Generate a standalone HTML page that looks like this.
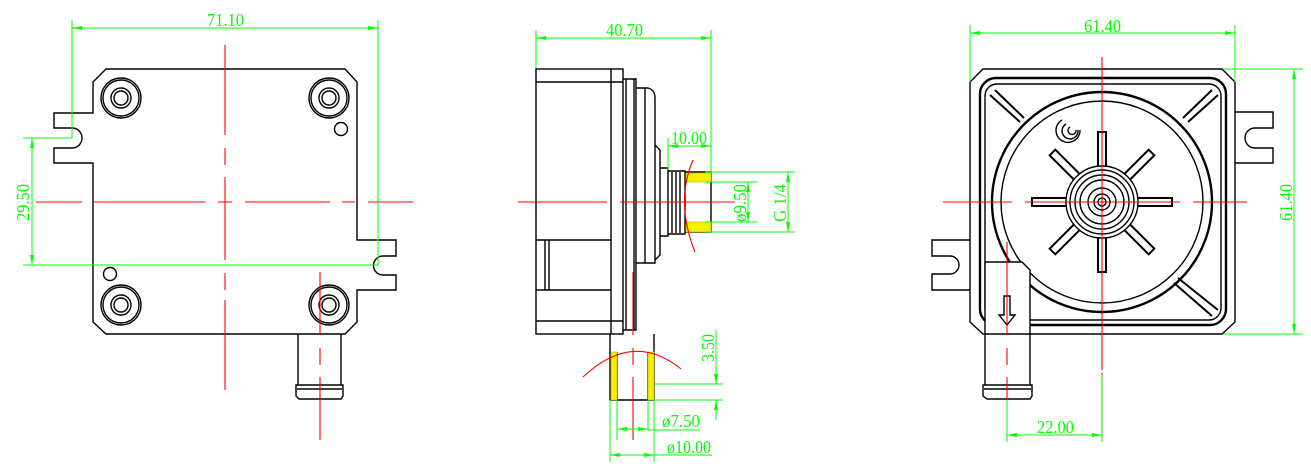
<!DOCTYPE html>
<html><head><meta charset="utf-8"><style>
html,body{margin:0;padding:0;background:#fff;}
svg{display:block;}
text{font-family:"Liberation Serif",serif;fill:#00ff00;font-size:18px;}
</style></head><body>
<svg width="1311" height="473" viewBox="0 0 1311 473" xmlns="http://www.w3.org/2000/svg">
<g fill="none" stroke="#000" stroke-width="1.4">
<!-- LEFT VIEW -->
<path d="M106,69 L345,69 L357,82 L357,240 L396,240 L396,256 L383,256 A9,9 0 0 0 383,275 L396,275 L396,290 L357,290 L357,322 L345,334 L106,334 L93,322 L93,163 L54,163 L54,148 L72,148 A10,10 0 0 0 72,128 L54,128 L54,113 L93,113 L93,82 Z"/>
<g>
<circle cx="121" cy="98" r="20"/><circle cx="121" cy="98" r="18"/><circle cx="121" cy="98" r="10"/><circle cx="121" cy="98" r="7"/>
<circle cx="329" cy="98" r="20"/><circle cx="329" cy="98" r="18"/><circle cx="329" cy="98" r="10"/><circle cx="329" cy="98" r="7"/>
<circle cx="121" cy="305" r="20"/><circle cx="121" cy="305" r="18"/><circle cx="121" cy="305" r="10"/><circle cx="121" cy="305" r="7"/>
<circle cx="329" cy="305" r="20"/><circle cx="329" cy="305" r="18"/><circle cx="329" cy="305" r="10"/><circle cx="329" cy="305" r="7"/>
<circle cx="341" cy="129" r="6.5"/><circle cx="110" cy="274" r="6.5"/>
</g>
<path d="M298,334 L298,385 M341,334 L341,385 M296,385 L343,385 L343,396 L341,399 L299,399 L296,396 Z M297,389 L342,389"/>

<!-- MIDDLE VIEW -->
<rect x="536" y="69" width="87" height="265"/>
<path d="M536,82 L623,82 M536,321 L623,321 M611,69 L611,334 M536,240 L611,240 M536,290 L611,290 M545,240 L545,290 M549,240 L549,290"/>
<path d="M623,79 L636,79 L636,330 L623,330 M626,79 L626,330 M634,79 L634,330"/>
<path d="M636,88 L648,88 Q655,90 655,98 L655,263 L636,263 M645,88 L645,263"/>
<path d="M655,145 L660,150 L660,255 L655,260 M660,168 L668,168 L668,236 L660,236"/>
<path d="M668,171 L685,171 L685,234 L668,234 M672,172 L672,233 M676,172 L676,233 M680,172 L680,233 M685,172 L711,172 L711,232 L685,232"/>
<path d="M610,334 L610,400 L654,400 L654,334 M617,352 L617,400 M648,352 L648,400"/>
<!-- RIGHT VIEW -->
<path d="M983,69 L1222,69 L1235,82 L1235,322 L1222,334 L983,334 L970,322 L970,82 Z"/>
<rect x="980" y="78" width="246" height="247" rx="16" stroke-width="2.4"/>
<rect x="985" y="84" width="236" height="236" rx="12"/>
<circle cx="1102" cy="202" r="110" stroke-width="2.4"/>
<circle cx="1102" cy="202" r="101"/>
<path d="M1235,112 L1273,112 L1273,128 L1255,128 A10,10 0 0 0 1255,148 L1273,148 L1273,163 L1235,163"/>
<path d="M970,240 L932,240 L932,256 L950,256 A8,8 0 0 1 950,274 L932,274 L932,290 L970,290"/>
<circle cx="1102" cy="202" r="36"/><circle cx="1102" cy="202" r="32"/><circle cx="1102" cy="202" r="27"/><circle cx="1102" cy="202" r="22"/><circle cx="1102" cy="202" r="14"/><circle cx="1102" cy="202" r="8"/><circle cx="1102" cy="202" r="4"/>
<g id="sp"><path d="M1098,166 L1098,132 L1106,132 L1106,166" stroke-width="2"/></g>
<use href="#sp" transform="rotate(45 1102 202)"/><use href="#sp" transform="rotate(90 1102 202)"/><use href="#sp" transform="rotate(135 1102 202)"/>
<use href="#sp" transform="rotate(180 1102 202)"/><use href="#sp" transform="rotate(225 1102 202)"/><use href="#sp" transform="rotate(270 1102 202)"/><use href="#sp" transform="rotate(315 1102 202)"/>
<path d="M990,95 L1020,122 M995,90 L1024,118 M1218,95 L1188,122 M1212,90 L1183,118 M1218,310 L1178,278 M1212,316 L1174,283" stroke-width="2"/>
<rect x="985" y="262" width="45" height="70" fill="#fff" stroke="none"/>
<path d="M985,262 L1022,262 L1030,270 L1030,385 M985,262 L985,385 M983,385 L1032,385 L1032,396 L1030,399 L987,399 L983,396 Z M984,389 L1031,389"/>
<path d="M1004,296 L1004,315 L999,315 L1007,325 L1015,315 L1010,315 L1010,296 Z"/>
<path d="M1062,120 a12,12 0 1 0 18,10 M1066,124 a8,8 0 1 0 12,6 M1070,127 a4,4 0 1 0 6,3"/>
</g>

<!-- yellow hatch -->
<g fill="#f4f000" stroke="#c8b400" stroke-width="0.6">
<rect x="686" y="173" width="25" height="9"/><rect x="686" y="222" width="25" height="10"/>
<rect x="611" y="352" width="6" height="48"/><rect x="648" y="352" width="6" height="48"/>
</g>

<!-- red center lines -->
<g fill="none" stroke="#ff0000" stroke-width="1.1">
<path d="M225,45 L225,135 M225,148 L225,165 M225,177 L225,260 M225,273 L225,290 M225,300 L225,390" />
<path d="M36,202 L82,202 M94,202 L205,202 M218,202 L232,202 M245,202 L330,202 M342,202 L355,202 M368,202 L413,202"/>
<path d="M320,272 L320,335 M320,348 L320,365 M320,377 L320,440"/>
<path d="M518,202 L607,202 M620,202 L735,202"/>
<path d="M693,160 Q675,202 695,252"/>
<path d="M583,377 Q633,330 681,369"/>
<path d="M633,272 L633,335 M633,348 L633,365 M633,377 L633,440"/>
<path d="M943,202 L1012,202 M1025,202 L1180,202 M1193,202 L1247,202"/>
<path d="M1102,57 L1102,370 M1102,373 L1102,440"/>
<path d="M1007,242 L1007,335 M1007,348 L1007,365 M1007,377 L1007,400"/>
</g>

<!-- green dims -->
<g fill="none" stroke="#00ff00" stroke-width="1">
<path d="M72,28 L378,28 M72,20 L72,138 M378,20 L378,265"/>
<path d="M32,138 L32,265 M23,138 L72,138 M23,265 L378,265"/>
<path d="M536,38 L711,38 M536,30 L536,68 M711,30 L711,172"/>
<path d="M668,146 L711,146 M668,138 L668,170"/>
<path d="M748,182 L748,222 M705,182 L757,182 M705,222 L757,222"/>
<path d="M788,172 L788,232 M705,172 L795,172 M705,232 L795,232"/>
<path d="M716,330 L716,384 M716,400 L716,420 M654,384 L723,384 M654,400 L723,400"/>
<path d="M617,429 L648,429 M617,400 L617,440 M648,400 L648,430 L700,430"/>
<path d="M610,455 L654,455 L712,455 M610,400 L610,462 M654,400 L654,462"/>
<path d="M970,33 L1235,33 M970,25 L970,82 M1235,25 L1235,82"/>
<path d="M1294,69 L1294,334 M1223,69 L1303,69 M1223,334 L1303,334"/>
<path d="M1007,435 L1102,435 M1007,400 L1007,442 M1102,375 L1102,442"/>
</g>
<g fill="#00ff00">
<path d="M72,28 l10,-2 v4z M378,28 l-10,-2 v4z M32,138 l-2,10 h4z M32,265 l-2,-10 h4z M536,38 l10,-2 v4z M711,38 l-10,-2 v4z M668,146 l10,-2 v4z M711,146 l-10,-2 v4z M748,182 l-2,10 h4z M748,222 l-2,-10 h4z M788,172 l-2,10 h4z M788,232 l-2,-10 h4z M716,384 l-2,-10 h4z M716,400 l-2,10 h4z M617,429 l10,-2 v4z M648,429 l-10,-2 v4z M610,455 l10,-2 v4z M654,455 l-10,-2 v4z M970,33 l10,-2 v4z M1235,33 l-10,-2 v4z M1294,69 l-2,10 h4z M1294,334 l-2,-10 h4z M1007,435 l10,-2 v4z M1102,435 l-10,-2 v4z"/>
</g>
<g>
<text x="207" y="26" textLength="37" lengthAdjust="spacingAndGlyphs">71.10</text>
<text transform="translate(29,221) rotate(-90)" textLength="37" lengthAdjust="spacingAndGlyphs">29.50</text>
<text x="606" y="36" textLength="37" lengthAdjust="spacingAndGlyphs">40.70</text>
<text x="671" y="144" textLength="36" lengthAdjust="spacingAndGlyphs">10.00</text>
<text transform="translate(746,222) rotate(-90)" textLength="38" lengthAdjust="spacingAndGlyphs">ø9.50</text>
<text transform="translate(786,222) rotate(-90)" textLength="38" lengthAdjust="spacingAndGlyphs">G 1/4</text>
<text transform="translate(714,362) rotate(-90)" textLength="28" lengthAdjust="spacingAndGlyphs">3.50</text>
<text x="662" y="427" textLength="38" lengthAdjust="spacingAndGlyphs">ø7.50</text>
<text x="667" y="453" textLength="44" lengthAdjust="spacingAndGlyphs">ø10.00</text>
<text x="1084" y="32" textLength="37" lengthAdjust="spacingAndGlyphs">61.40</text>
<text transform="translate(1292,221) rotate(-90)" textLength="37" lengthAdjust="spacingAndGlyphs">61.40</text>
<text x="1037" y="433" textLength="37" lengthAdjust="spacingAndGlyphs">22.00</text>
</g>
</svg>
</body></html>
